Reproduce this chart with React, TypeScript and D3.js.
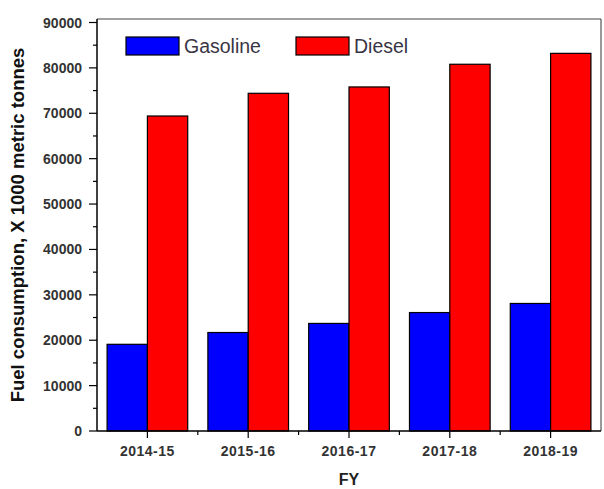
import React from "react";
import * as d3 from "d3";

const categories = ["2014-15", "2015-16", "2016-17", "2017-18", "2018-19"];
const seriesNames = ["Gasoline", "Diesel"];
const gasoline = [19100, 21700, 23700, 26100, 28100];
const diesel = [69400, 74400, 75800, 80800, 83200];
const yTicks = [0, 10000, 20000, 30000, 40000, 50000, 60000, 70000, 80000, 90000];
const yMinorTicks = [5000, 15000, 25000, 35000, 45000, 55000, 65000, 75000, 85000];
const colors = ["#0000FF", "#FF0000"];

export default function App() {
  const W = 604, H = 489;
  const left = 97, right = 601, top = 19, bottom = 431;
  const x0 = d3.scaleBand<string>().domain(categories).range([left, right]).padding(0);
  const bw = x0.bandwidth();
  const x1 = d3.scaleBand<string>().domain(seriesNames).range([bw * 0.1, bw * 0.9]).padding(0);
  const y = d3.scaleLinear().domain([0, 90000]).range([bottom, 22.5]);
  const values = [gasoline, diesel];
  const tickColor = "#333";
  const font = "Arial, 'Liberation Sans', sans-serif";

  const minorX = categories.map((c) => x0(c)!).slice(1);

  return (
    <svg width={W} height={H} style={{ position: "absolute", left: 0, top: 0, background: "#fff" }} fontFamily={font}>
      <rect x={0} y={0} width={W} height={H} fill="#fff" />
      {/* bars */}
      {categories.map((c, i) => (
        <g key={c} transform={`translate(${x0(c)},0)`}>
          {seriesNames.map((s, j) => (
            <rect
              key={s}
              x={x1(s)}
              y={y(values[j][i])}
              width={x1.bandwidth()}
              height={bottom - y(values[j][i])}
              fill={colors[j]}
              stroke="#000"
              strokeWidth={1.2}
            />
          ))}
        </g>
      ))}
      {/* frame */}
      <line x1={left} x2={right} y1={top} y2={top} stroke="#444" strokeWidth={1.2} />
      <line x1={right} x2={right} y1={top} y2={bottom} stroke="#555" strokeWidth={1.2} />
      <line x1={left} x2={left} y1={top} y2={bottom} stroke="#000" strokeWidth={1.5} />
      <line x1={left} x2={right} y1={bottom} y2={bottom} stroke="#000" strokeWidth={1.5} />
      {/* y ticks */}
      {yTicks.map((t) => (
        <g key={t}>
          <line x1={left - 8} x2={left} y1={y(t)} y2={y(t)} stroke="#000" strokeWidth={1.2} />
          <text x={82} y={y(t)} dy="0.36em" textAnchor="end" fontSize={14} fontWeight="bold" fill={tickColor}>
            {t}
          </text>
        </g>
      ))}
      {yMinorTicks.map((t) => (
        <line key={t} x1={left - 4} x2={left} y1={y(t)} y2={y(t)} stroke="#000" strokeWidth={1.2} />
      ))}
      {/* x ticks */}
      {categories.map((c) => {
        const cx = x0(c)! + bw / 2;
        return (
          <g key={c}>
            <line x1={cx} x2={cx} y1={bottom} y2={bottom + 7} stroke="#000" strokeWidth={1.2} />
            <text x={cx} y={456} textAnchor="middle" fontSize={14} fontWeight="bold" fill={tickColor} letterSpacing={0.5}>
              {c}
            </text>
          </g>
        );
      })}
      {minorX.map((mx, i) => (
        <line key={i} x1={mx} x2={mx} y1={bottom} y2={bottom + 4} stroke="#000" strokeWidth={1.2} />
      ))}
      {/* axis titles */}
      <text x={(left + right) / 2} y={485} textAnchor="middle" fontSize={16} fontWeight="bold" fill="#222">
        FY
      </text>
      <text
        transform={`translate(24,${(top + bottom) / 2}) rotate(-90)`}
        textAnchor="middle"
        fontSize={18.5}
        fontWeight="bold"
        fill="#111"
      >
        Fuel consumption, X 1000 metric tonnes
      </text>
      {/* legend */}
      {seriesNames.map((s, j) => {
        const lx = j === 0 ? 126 : 296;
        return (
          <g key={s}>
            <rect x={lx} y={37} width={53} height={18} fill={colors[j]} stroke="#000" strokeWidth={1.2} />
            <text x={lx + 58} y={53} fontSize={19.5} fill="#3a3545">
              {s}
            </text>
          </g>
        );
      })}
    </svg>
  );
}
